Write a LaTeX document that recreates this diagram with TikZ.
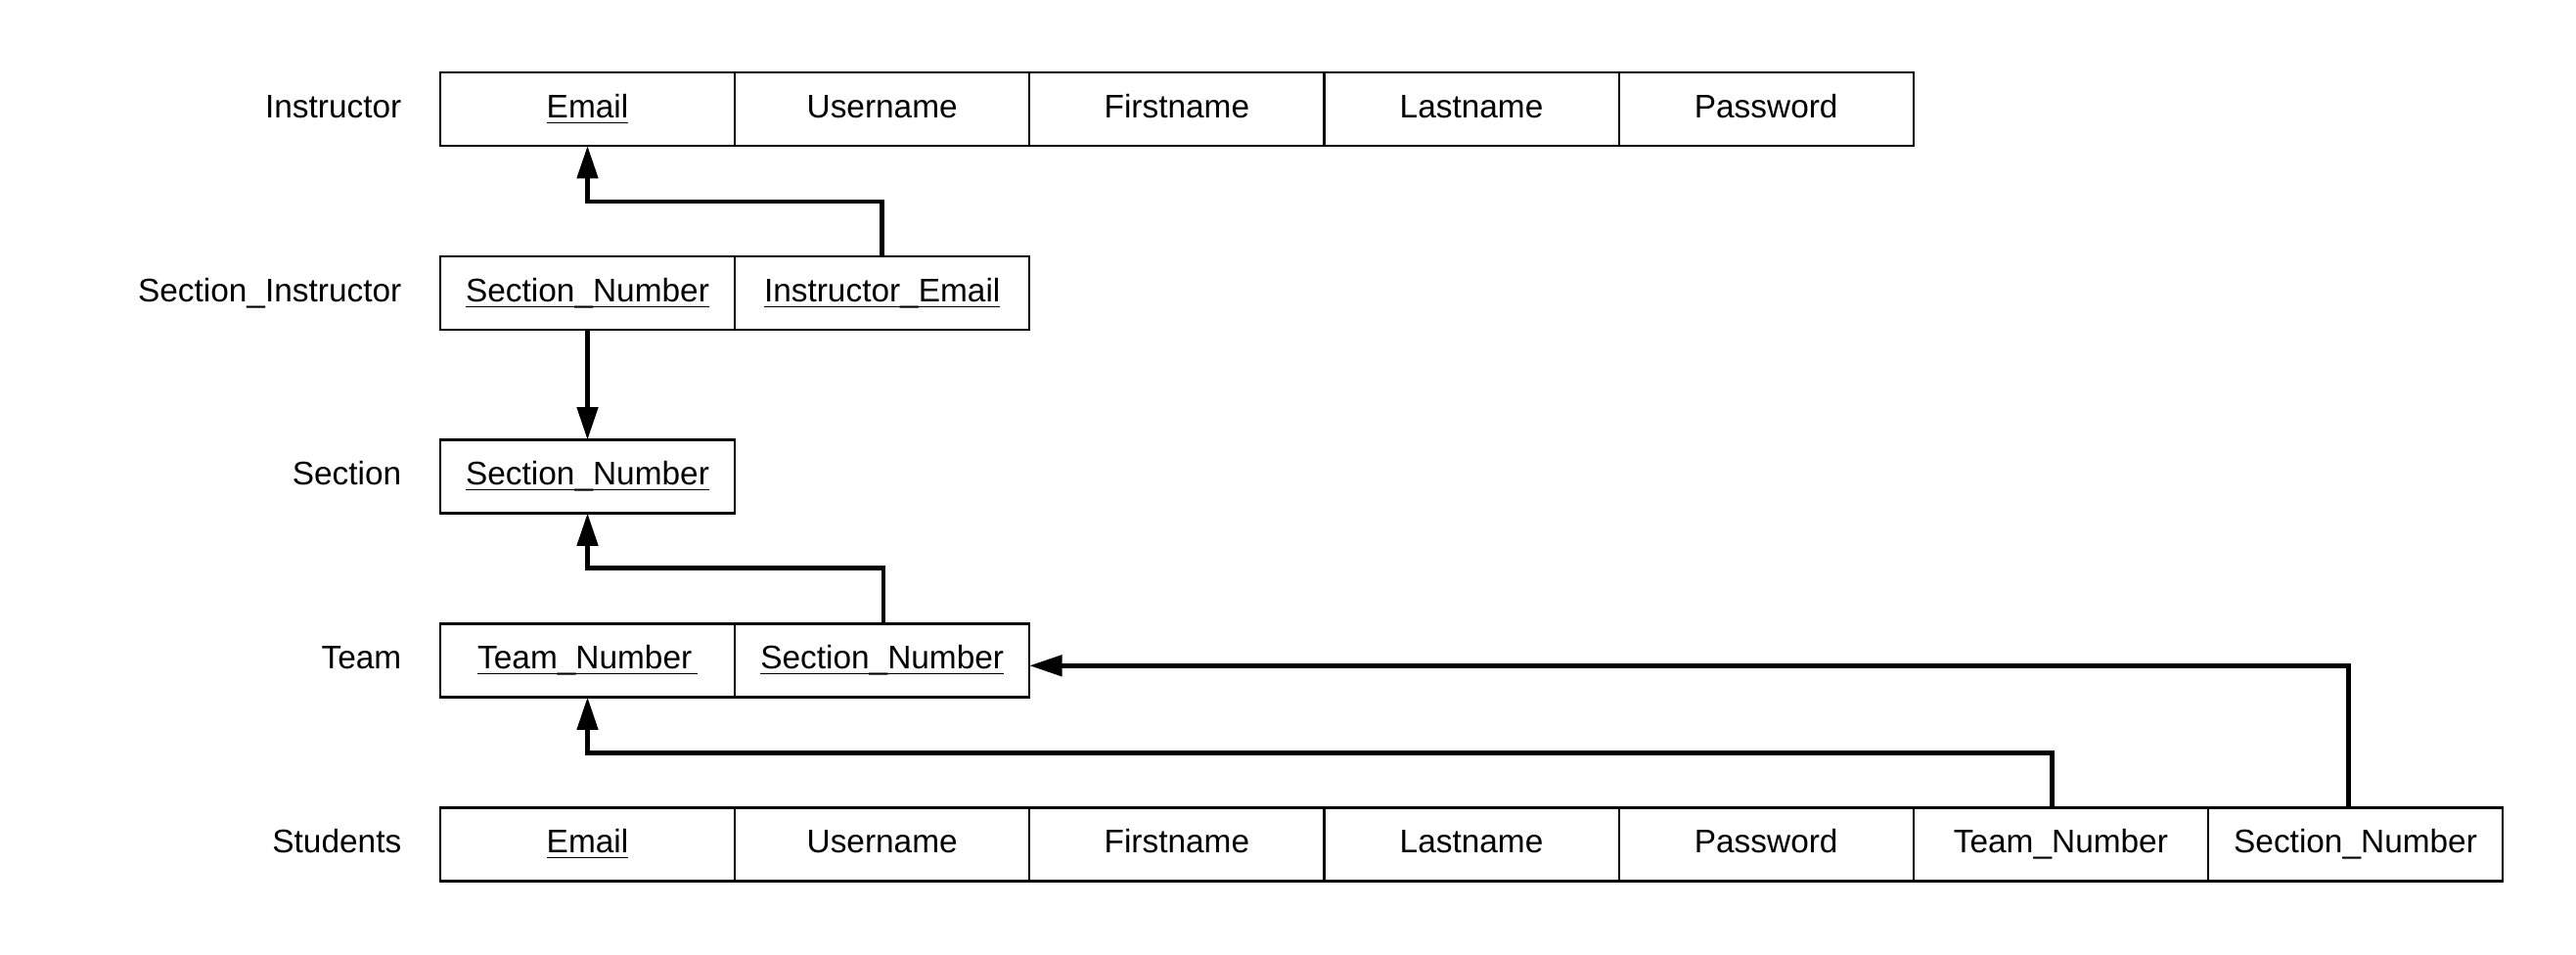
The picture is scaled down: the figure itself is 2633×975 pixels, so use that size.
\documentclass[tikz,border=0pt]{standalone}
\usepackage{fontspec}
\setmainfont{Liberation Sans}
\usepackage{tikz}
\usetikzlibrary{arrows.meta,positioning}

\tikzset{
    cell/.style={draw,line width=0.6pt,minimum width=3.01cm,minimum height=0.75cm,
                 text height=7pt,text depth=2pt,
                 inner sep=0pt,outer sep=0pt,font=\fontsize{9.5}{11}\selectfont},
    rowname/.style={anchor=east,inner sep=0pt,text height=7pt,text depth=2pt,
                    font=\fontsize{9.5}{11}\selectfont},
    fk/.style={line width=1.3pt,-{Triangle[length=9.5pt,width=6pt]}}
}
\newcommand{\pkey}[1]{\underline{\smash{#1}}}

\begin{document}
\begin{tikzpicture}[x=0.01cm,y=-0.01cm]
    \useasboundingbox (0,0) rectangle (2633,975);

    % Instructor
    \node[rowname] (lins) at (411,111.5) {Instructor};
    \node[cell] (ins1) at (600.5,111.5) {\pkey{Email}};
    \node[cell,right=0pt of ins1] (ins2) {Username};
    \node[cell,right=0pt of ins2] (ins3) {Firstname};
    \node[cell,right=0pt of ins3] (ins4) {Lastname};
    \node[cell,right=0pt of ins4] (ins5) {Password};

    % Section_Instructor
    \node[rowname] (lsi) at (411,299.5) {Section\_Instructor};
    \node[cell] (si1) at (600.5,299.5) {\pkey{Section\_Number}};
    \node[cell,right=0pt of si1] (si2) {\pkey{Instructor\_Email}};

    % Section
    \node[rowname] (lsec) at (411,487) {Section};
    \node[cell] (sec1) at (600.5,487) {\pkey{Section\_Number}};

    % Team
    \node[rowname] (lteam) at (411,675) {Team};
    \node[cell] (team1) at (600.5,675) {\pkey{Team\_Number\,}};
    \node[cell,right=0pt of team1] (team2) {\pkey{Section\_Number}};

    % Students
    \node[rowname] (lstu) at (411,863) {Students};
    \node[cell] (stu1) at (600.5,863) {\pkey{Email}};
    \node[cell,right=0pt of stu1] (stu2) {Username};
    \node[cell,right=0pt of stu2] (stu3) {Firstname};
    \node[cell,right=0pt of stu3] (stu4) {Lastname};
    \node[cell,right=0pt of stu4] (stu5) {Password};
    \node[cell,right=0pt of stu5] (stu6) {Team\_Number};
    \node[cell,right=0pt of stu6] (stu7) {Section\_Number};

    % foreign keys
    \coordinate (tsn) at ([yshift=-1.5pt]team2.east);
    \draw[fk] (si2.north) -- ++(0,-56) -| (ins1.south);
    \draw[fk] (si1.south) -- (sec1.north);
    \draw[fk] ([xshift=0.015cm]team2.north) -- ++(0,-57) -| (sec1.south);
    \draw[fk] ([xshift=-0.09cm]stu6.north) -- ++(0,-56) -| (team1.south);
    \draw[fk] ([xshift=-0.07cm]stu7.north) |- (tsn);
\end{tikzpicture}
\end{document}
